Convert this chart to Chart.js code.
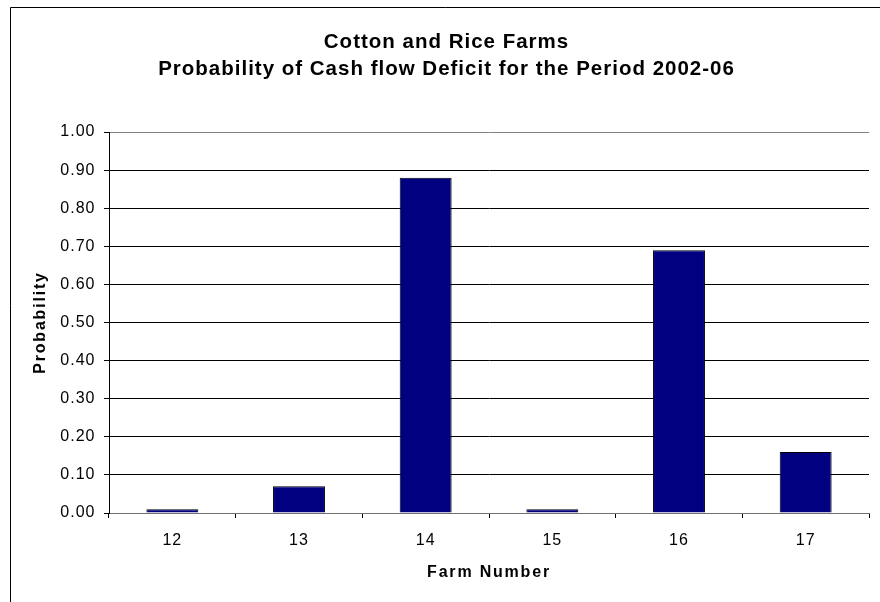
<!DOCTYPE html>
<html>
<head>
<meta charset="utf-8">
<script src="https://cdn.jsdelivr.net/npm/chart.js@4"></script>
<style>
  html, body { margin: 0; padding: 0; background: #fff; }
  #wrap { width: 880px; height: 602px; position: relative; }
</style>
</head>
<body>
<div id="wrap"><canvas id="c"></canvas></div>
<script>
// Farm numbers and the probability of a cash flow deficit, 2002-06
const farms = ['12', '13', '14', '15', '16', '17'];
const deficitProbability = [0.01, 0.07, 0.88, 0.01, 0.69, 0.16];

const titleLines = ['Cotton and Rice Farms', 'Probability of Cash flow Deficit for the Period 2002-06'];
const xTitle = 'Farm Number';
const yTitle = 'Probability';

const FONT = "'Liberation Sans', Arial, sans-serif";

// Letter spacing for each kind of text (chart title, tick labels, axis titles)
function withSpacing(ctx, spacing, fn) {
  return function (...args) {
    ctx.save();
    ctx.letterSpacing = spacing;
    const r = fn.apply(this, args);
    ctx.restore();
    return r;
  };
}
const spacingPlugin = {
  id: 'spacing',
  afterLayout(chart) {
    const ctx = chart.ctx;
    Object.values(chart.scales).forEach((s) => {
      if (s.$spaced) return;
      s.$spaced = true;
      s.drawLabels = withSpacing(ctx, '1px', s.drawLabels);
      s.drawTitle = withSpacing(ctx, '1.8px', s.drawTitle);
    });
    const t = chart.titleBlock;
    if (t && !t.$spaced) {
      t.$spaced = true;
      t.draw = withSpacing(ctx, '1px', t.draw);
    }
  }
};

// Outer chart frame
const framePlugin = {
  id: 'frame',
  beforeDraw(chart) {
    const ctx = chart.ctx;
    ctx.save();
    ctx.fillStyle = '#ffffff';
    ctx.fillRect(0, 0, chart.width, chart.height);
    ctx.strokeStyle = '#000000';
    ctx.lineWidth = 1;
    ctx.beginPath();
    ctx.moveTo(10.5, chart.height + 5);
    ctx.lineTo(10.5, 7.5);
    ctx.lineTo(chart.width + 5, 7.5);
    ctx.stroke();
    ctx.restore();
  }
};

new Chart(document.getElementById('c'), {
  type: 'bar',
  data: {
    labels: farms,
    datasets: [{
      data: deficitProbability,
      backgroundColor: '#000080',
      borderColor: '#000000',
      borderWidth: 1,
      categoryPercentage: 1,
      barPercentage: 0.41
    }]
  },
  plugins: [spacingPlugin, framePlugin],
  options: {
    responsive: true,
    maintainAspectRatio: false,
    animation: false,
    events: [],
    layout: { padding: { left: 24, right: 11, top: 0, bottom: 0 } },
    plugins: {
      legend: { display: false },
      tooltip: { enabled: false },
      title: {
        display: true,
        text: titleLines,
        color: '#000000',
        font: { family: FONT, size: 20.5, weight: 'bold', lineHeight: 1.33 },
        padding: { top: 28.5, bottom: 49 }
      }
    },
    scales: {
      x: {
        offset: true,
        afterFit(scale) { scale.height = 89; },
        grid: {
          offset: true,
          drawOnChartArea: true,
          drawTicks: true,
          tickLength: 5,
          color: (ctx) => (ctx.index === farms.length ? '#808080' : 'rgba(0,0,0,0)'),
          tickColor: '#000000',
          lineWidth: 1
        },
        border: { display: true, color: '#707070', width: 1 },
        ticks: {
          color: '#000000',
          padding: 12.5,
          font: { family: FONT, size: 16 },
          maxRotation: 0
        },
        title: {
          display: true,
          text: xTitle,
          color: '#000000',
          font: { family: FONT, size: 16, weight: 'bold', lineHeight: 1.2 },
          padding: { top: 0, bottom: 19.4 }
        }
      },
      y: {
        min: 0,
        max: 1,
        afterFit(scale) { scale.width = 85; },
        grid: {
          drawTicks: true,
          tickLength: 5,
          color: (ctx) => {
            const v = ctx.tick ? ctx.tick.value : null;
            return (v === 0 || v === 1) ? '#808080' : '#000000';
          },
          tickColor: '#000000',
          lineWidth: 1
        },
        border: { display: true, color: '#000000', width: 1 },
        ticks: {
          stepSize: 0.1,
          color: '#000000',
          padding: 8.5,
          font: { family: FONT, size: 16 },
          callback: (v) => Number(v).toFixed(2)
        },
        title: {
          display: true,
          text: yTitle,
          color: '#000000',
          font: { family: FONT, size: 16, weight: 'bold', lineHeight: 1.2 },
          padding: { top: 7.4, bottom: 0 }
        }
      }
    }
  }
});
</script>
</body>
</html>
